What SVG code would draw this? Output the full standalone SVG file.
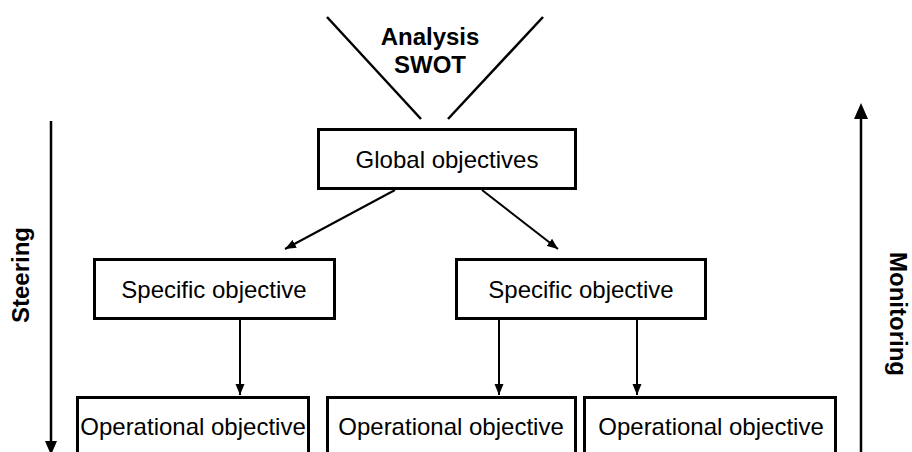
<svg xmlns="http://www.w3.org/2000/svg" width="912" height="452" viewBox="0 0 912 452">
<defs>
<style>
.box{fill:#fff;stroke:#000;stroke-width:3}
.t{font-family:"Liberation Sans",Arial,sans-serif;font-size:24px;fill:#000;text-anchor:middle}
.b{font-weight:bold}
.c{stroke:#000;stroke-width:2;fill:none}
.side{stroke:#000;stroke-width:2.5;fill:none}
</style>
<marker id="ah" markerUnits="userSpaceOnUse" markerWidth="12" markerHeight="10" viewBox="0 0 12 10" refX="11" refY="5" orient="auto">
<path d="M0,0.5 L11,5 L0,9.5 Z" fill="#000"/>
</marker>
</defs>
<rect width="912" height="452" fill="#fff"/>
<g id="swot">
<line class="side" x1="327" y1="17" x2="421" y2="119"/>
<line class="side" x1="543" y1="17" x2="448" y2="119"/>
<text class="t b" x="430" y="45">Analysis</text>
<text class="t b" x="430" y="73">SWOT</text>
</g>
<g id="steering">
<line class="side" x1="51" y1="121" x2="51" y2="443"/>
<polygon points="45,441 57,441 51,455" fill="#000"/>
<text class="t b" transform="translate(29,275) rotate(-90)">Steering</text>
</g>
<g id="monitoring">
<line class="side" x1="861" y1="452" x2="861" y2="116"/>
<polygon points="854,119 868,119 861,103" fill="#000"/>
<text class="t b" transform="translate(890,314) rotate(90)">Monitoring</text>
</g>
<g id="connectors">
<line class="c" x1="395" y1="190" x2="285" y2="249" marker-end="url(#ah)"/>
<line class="c" x1="482" y1="190" x2="558" y2="249" marker-end="url(#ah)"/>
<line class="c" x1="240" y1="320" x2="240" y2="395" marker-end="url(#ah)"/>
<line class="c" x1="499" y1="320" x2="499" y2="395" marker-end="url(#ah)"/>
<line class="c" x1="637" y1="320" x2="637" y2="395" marker-end="url(#ah)"/>
</g>
<g id="global">
<rect class="box" x="318.5" y="129.5" width="257" height="59"/>
<text class="t" x="447" y="168">Global objectives</text>
</g>
<g id="specific1">
<rect class="box" x="94.5" y="259.5" width="240" height="59"/>
<text class="t" x="214" y="298">Specific objective</text>
</g>
<g id="specific2">
<rect class="box" x="456.5" y="259.5" width="249" height="59"/>
<text class="t" x="581" y="298">Specific objective</text>
</g>
<g id="operational1">
<rect class="box" x="77.5" y="397.5" width="231" height="62"/>
<text class="t" x="193" y="435">Operational objective</text>
</g>
<g id="operational2">
<rect class="box" x="327.5" y="397.5" width="248" height="62"/>
<text class="t" x="451" y="435">Operational objective</text>
</g>
<g id="operational3">
<rect class="box" x="584.5" y="397.5" width="251" height="62"/>
<text class="t" x="711" y="435">Operational objective</text>
</g>
</svg>
